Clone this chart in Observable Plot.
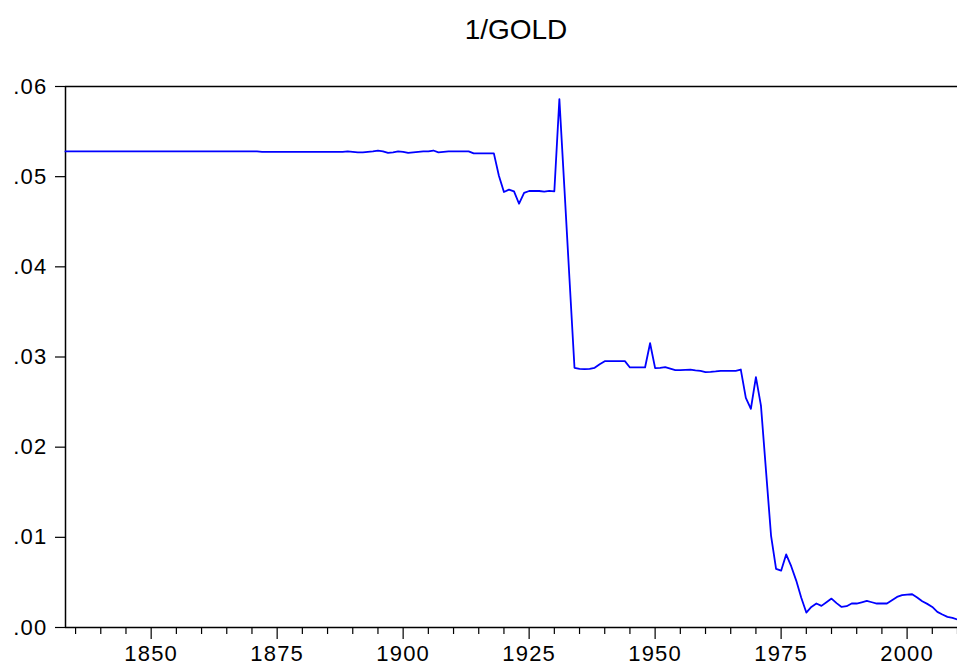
<!DOCTYPE html>
<html><head><meta charset="utf-8">
<script src="https://cdn.jsdelivr.net/npm/d3@7"></script>
<script src="https://cdn.jsdelivr.net/npm/@observablehq/plot@0.6"></script>
<style>
body{margin:0;background:#fff;overflow:hidden;}
#wrap{position:relative;width:957px;height:666px;}
#title{position:absolute;left:366px;width:300px;top:16px;text-align:center;font:28px/28px "Liberation Sans",Arial,sans-serif;color:#000;z-index:2;}
#wrap svg text{letter-spacing:1.2px;}
</style></head>
<body><div id="wrap"><div id="title">1/GOLD</div></div>
<script>
const years = [
  1833,1834,1835,1836,1837,1838,1839,
  1840,1841,1842,1843,1844,1845,1846,1847,1848,1849,
  1850,1851,1852,1853,1854,1855,1856,1857,1858,1859,
  1860,1861,1862,1863,1864,1865,1866,1867,1868,1869,
  1870,1871,1872,1873,1874,1875,1876,1877,1878,1879,
  1880,1881,1882,1883,1884,1885,1886,1887,1888,1889,
  1890,1891,1892,1893,1894,1895,1896,1897,1898,1899,
  1900,1901,1902,1903,1904,1905,1906,1907,1908,1909,
  1910,1911,1912,1913,1914,1915,1916,1917,1918,1919,
  1920,1921,1922,1923,1924,1925,1926,1927,1928,1929,
  1930,1931,1932,1933,1934,1935,1936,1937,1938,1939,
  1940,1941,1942,1943,1944,1945,1946,1947,1948,1949,
  1950,1951,1952,1953,1954,1955,1956,1957,1958,1959,
  1960,1961,1962,1963,1964,1965,1966,1967,1968,1969,
  1970,1971,1972,1973,1974,1975,1976,1977,1978,1979,
  1980,1981,1982,1983,1984,1985,1986,1987,1988,1989,
  1990,1991,1992,1993,1994,1995,1996,1997,1998,1999,
  2000,2001,2002,2003,2004,2005,2006,2007,2008,2009,
  2010
];
const invGold = [
  0.0528,0.0528,0.0528,0.0528,0.0528,0.0528,0.0528,
  0.0528,0.0528,0.0528,0.0528,0.0528,0.0528,0.0528,0.0528,0.0528,0.0528,
  0.0528,0.0528,0.0528,0.0528,0.0528,0.0528,0.0528,0.0528,0.0528,0.0528,
  0.0528,0.0528,0.0528,0.0528,0.0528,0.0528,0.0528,0.0528,0.0528,0.0528,
  0.0528,0.0528,0.05275,0.05275,0.05275,0.05275,0.05275,0.05275,0.05275,0.05275,
  0.05275,0.05275,0.05275,0.05275,0.05275,0.05275,0.05275,0.05275,0.05275,0.0528,
  0.05275,0.0527,0.0527,0.05275,0.0528,0.05288,0.0528,0.05263,0.0527,0.0528,
  0.05275,0.05263,0.0527,0.05275,0.0528,0.0528,0.0529,0.0527,0.05275,0.0528,
  0.0528,0.0528,0.0528,0.0528,0.05258,0.05258,0.05258,0.05258,0.05258,0.0501,
  0.0483,0.04856,0.04837,0.0470,0.0482,0.04841,0.04842,0.04841,0.04835,0.04842,
  0.04838,0.0586,0.0487,0.0387,0.0288,0.02869,0.02866,0.02869,0.0288,0.0292,
  0.02954,0.02954,0.02954,0.02954,0.02954,0.02884,0.02884,0.02884,0.02884,0.03153,
  0.02876,0.0288,0.02887,0.0287,0.02854,0.02855,0.02858,0.02861,0.02852,0.02847,
  0.02832,0.02835,0.0284,0.02847,0.02847,0.02847,0.02847,0.02861,0.02546,0.02426,
  0.02776,0.0246,0.0174,0.0102,0.0065,0.0063,0.0081,0.0068,0.0052,0.0033,
  0.00166,0.00228,0.00266,0.0024,0.0028,0.00321,0.0027,0.00228,0.00236,0.00266,
  0.00266,0.0028,0.00295,0.0028,0.00266,0.00266,0.00266,0.00302,0.00339,0.00358,
  0.00365,0.00369,0.00332,0.00291,0.00262,0.00228,0.00173,0.00144,0.00118,0.00107,
  0.00088
];
const majorYears = [1850, 1875, 1900, 1925, 1950, 1975, 2000];
const minorYears = [1835,1840,1845,1855,1860,1865,1870,1880,1885,1890,1895,1905,1910,1915,1920,1930,1935,1940,1945,1955,1960,1965,1970,1980,1985,1990,1995,2005,2010];
const yTicks = [0, 0.01, 0.02, 0.03, 0.04, 0.05, 0.06];
const yTickLabels = [".00", ".01", ".02", ".03", ".04", ".05", ".06"];
const xDomain = [1833, 2010];
const yDomain = [0, 0.06];

const data = years.map((year, i) => ({year, value: invGold[i]}));

const chart = Plot.plot({
  width: 957,
  height: 666,
  marginLeft: 65,
  marginRight: 0,
  marginTop: 86,
  marginBottom: 39,
  x: {domain: xDomain},
  y: {domain: yDomain},
  style: {fontFamily: '"Liberation Sans", Arial, sans-serif', fontSize: "22px", color: "#000", background: "transparent"},
  marks: [
    Plot.axisY({ticks: yTicks, tickFormat: d => yTickLabels[yTicks.indexOf(d)], tickSize: 10, tickPadding: 8, label: null, strokeWidth: 1.2, fontSize: 22}),
    Plot.axisX({ticks: majorYears, tickFormat: d => String(d), tickSize: 12, tickPadding: 6, label: null, strokeWidth: 1.2, fontSize: 22}),
    Plot.axisX({ticks: minorYears, tickFormat: () => "", tickSize: 7, label: null, strokeWidth: 1.2}),
    Plot.ruleY([yDomain[1]], {stroke: "#000", strokeWidth: 1.5}),
    Plot.ruleY([yDomain[0]], {stroke: "#000", strokeWidth: 1.5}),
    Plot.ruleX([xDomain[0]], {stroke: "#000", strokeWidth: 1.5}),
    Plot.line(data, {x: "year", y: "value", stroke: "#0000ff", strokeWidth: 1.8})
  ]
});
document.getElementById("wrap").appendChild(chart);
chart.style.position = "absolute";
chart.style.left = "0";
chart.style.top = "0";
</script>
</body></html>
